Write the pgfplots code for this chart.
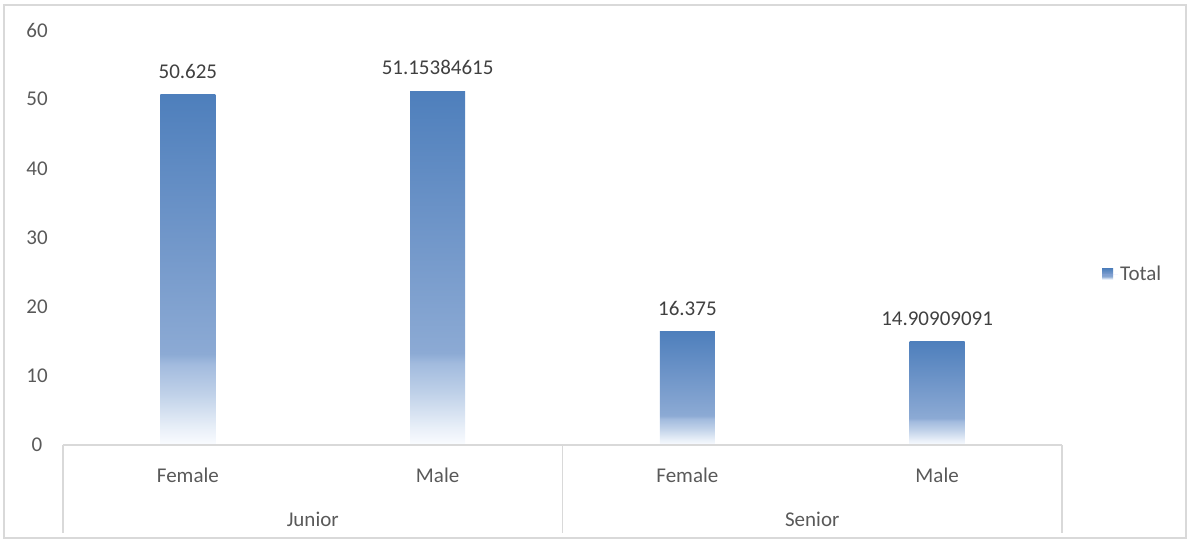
\documentclass[border=0pt]{standalone}
\usepackage{pgfplots}
\pgfplotsset{compat=1.18}
\usepackage{fontspec}
\setmainfont{Carlito}
\definecolor{s0}{RGB}{250,252,255}
\definecolor{s1}{RGB}{232,239,248}
\definecolor{s2}{RGB}{190,208,232}
\definecolor{s3}{RGB}{162,187,222}
\definecolor{s4}{RGB}{140,170,212}
\definecolor{s5}{RGB}{112,150,201}
\definecolor{s6}{RGB}{78,127,188}
\definecolor{ticktext}{RGB}{89,89,89}
\definecolor{labtext}{RGB}{64,64,64}
\definecolor{boxline}{RGB}{217,217,217}
\pgfdeclareverticalshading{barshade}{100bp}{color(0bp)=(s0); color(25bp)=(s0); color(27.5bp)=(s1); color(32.5bp)=(s2); color(36.5bp)=(s3); color(38bp)=(s4); color(55bp)=(s5); color(75bp)=(s6); color(100bp)=(s6)}
\newcommand\cf{\fontsize{21}{25}\selectfont}
\begin{document}
\begin{tikzpicture}[x=1pt,y=1pt]
\useasboundingbox (-63,-99) rectangle (1125,445);
\draw[boxline, line width=1.2pt] (-59,-93) rectangle (1123,440);
\begin{axis}[
  scale only axis,
  width=999pt, height=415pt,
  xmin=0, xmax=4, ymin=0, ymax=60,
  enlargelimits=false,
  clip=false,
  axis line style={draw=none},
  major tick length=0pt,
  tick style={draw=none},
  ytick={0,10,...,60},
  xtick={0.5,1.5,2.5,3.5},
  xticklabels={Female,Male,Female,Male},
  /pgf/number format/assume math mode=true,
  yticklabel style={font=\cf, text=ticktext, anchor=center, xshift=-26pt},
  xticklabel style={font=\cf, text=ticktext, anchor=center, yshift=-30pt},
  ybar, bar width=55pt, bar shift=0pt,
  nodes near coords,
  point meta=explicit symbolic,
  nodes near coords style={font=\cf, text=labtext, anchor=south, yshift=13pt},
  legend style={at={(1.040,0.412)}, anchor=west, draw=none, fill=none, font=\cf, text=ticktext, inner sep=0pt},
  legend image code/.code={\fill[shade, shading=barshade] (0pt,-5.5pt) rectangle (11pt,5.5pt); \path (0pt,0pt) -- (16pt,0pt);},
  every axis plot/.append style={draw=none, shade, shading=barshade},
]
\addplot coordinates {(0.5,50.625) [50.625]};
\addlegendentry{Total}
\addplot+[forget plot] coordinates {(1.5,51.15384615) [51.15384615]};
\addplot+[forget plot] coordinates {(2.5,16.375) [16.375]};
\addplot+[forget plot] coordinates {(3.5,14.90909091) [14.90909091]};
\draw[boxline, line width=1.2pt] (axis cs:0,0) -- (axis cs:4,0);
\draw[boxline, line width=1.2pt] (axis cs:0,0) -- (axis cs:0,-12.72);
\draw[boxline, line width=1.2pt] (axis cs:2,0) -- (axis cs:2,-12.72);
\draw[boxline, line width=1.2pt] (axis cs:4,0) -- (axis cs:4,-12.72);
\node[font=\cf, text=ticktext] at (axis cs:1,-10.7) {Junior};
\node[font=\cf, text=ticktext] at (axis cs:3,-10.7) {Senior};
\end{axis}
\end{tikzpicture}
\end{document}
